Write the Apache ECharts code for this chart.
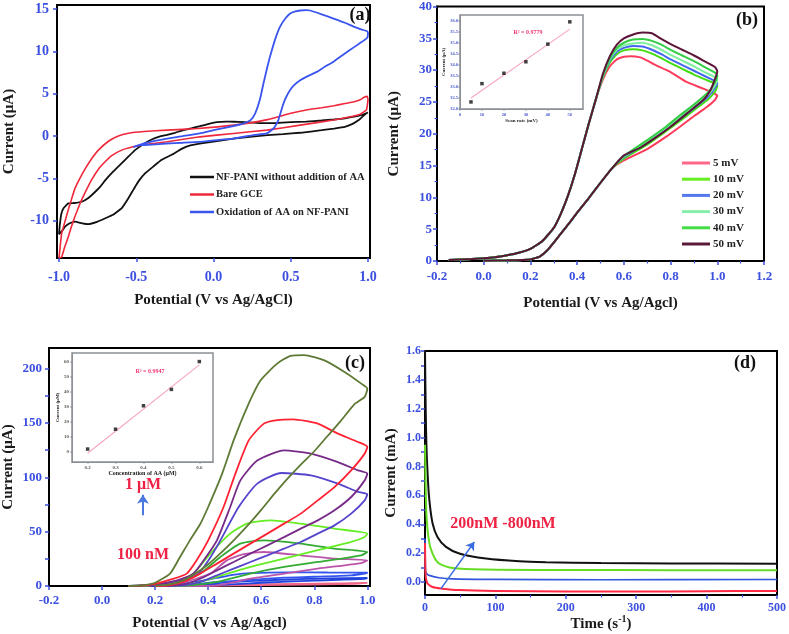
<!DOCTYPE html>
<html><head><meta charset="utf-8">
<script src="https://cdn.jsdelivr.net/npm/echarts@6/dist/echarts.min.js"></script>
<style>html,body{margin:0;padding:0;background:#fff}#c{width:789px;height:634px}</style>
</head><body><div id="c"></div>
<script>
// ---------- Panel (a) ----------
const aTicksX = [-1.0, -0.5, 0.0, 0.5, 1.0];
const aTicksY = [-10, -5, 0, 5, 10, 15];
const aNames = ['NF-PANI without addition of AA', 'Bare GCE', 'Oxidation of AA on NF-PANI'];
const aNFPANI = [[-1.0,-11.6],[-0.995,-10.5],[-0.985,-9.2],[-0.97,-8.5],[-0.94,-7.95],[-0.9,-7.9],[-0.853,-7.75],[-0.81,-7.3],[-0.767,-6.6],[-0.73,-5.9],[-0.70,-5.2],[-0.65,-4.2],[-0.594,-3.2],[-0.55,-2.4],[-0.508,-1.65],[-0.45,-0.9],[-0.40,-0.4],[-0.35,-0.05],[-0.30,0.15],[-0.25,0.4],[-0.196,0.71],[-0.14,0.95],[-0.088,1.18],[-0.03,1.45],[0.02,1.65],[0.08,1.72],[0.13,1.7],[0.2,1.65],[0.3,1.55],[0.4,1.55],[0.5,1.65],[0.6,1.72],[0.7,1.85],[0.78,1.97],[0.85,2.1],[0.91,2.3],[0.96,2.5],[1.0,2.8],
  [0.99,2.7],[0.97,2.4],[0.94,1.9],[0.9,1.45],[0.85,1.1],[0.78,0.9],[0.7,0.7],[0.56,0.4],[0.45,0.25],[0.35,0.12],[0.25,-0.05],[0.13,-0.28],[0.0,-0.65],[-0.09,-0.87],[-0.15,-1.1],[-0.206,-1.5],[-0.27,-2.2],[-0.335,-2.8],[-0.39,-3.6],[-0.443,-4.4],[-0.48,-5.2],[-0.508,-6.0],[-0.55,-7.3],[-0.594,-8.5],[-0.65,-9.3],[-0.70,-9.7],[-0.75,-10.1],[-0.81,-10.4],[-0.85,-10.3],[-0.896,-10.1],[-0.93,-10.3],[-0.961,-10.7],[-0.98,-11.2],[-1.0,-11.6]];
const aBareGCE = [[-1.0,-14.4],[-0.983,-11.5],[-0.96,-10.0],[-0.94,-8.7],[-0.92,-7.5],[-0.897,-6.2],[-0.865,-5.0],[-0.832,-3.9],[-0.79,-2.7],[-0.745,-1.65],[-0.68,-0.6],[-0.62,0.0],[-0.55,0.35],[-0.45,0.55],[-0.30,0.71],[-0.1,0.9],[0.13,1.3],[0.35,1.95],[0.5,2.7],[0.6,3.1],[0.7,3.35],[0.78,3.6],[0.85,3.85],[0.91,4.07],[0.95,4.3],[0.975,4.6],[0.995,4.7],[1.0,4.3],
  [0.99,3.1],[0.95,2.6],[0.885,2.3],[0.777,1.9],[0.561,1.3],[0.345,0.71],[0.129,0.32],[-0.088,-0.08],[-0.3,-0.67],[-0.45,-1.0],[-0.52,-1.26],[-0.594,-1.65],[-0.659,-2.3],[-0.70,-3.0],[-0.745,-3.9],[-0.79,-5.2],[-0.832,-6.7],[-0.865,-8.0],[-0.897,-9.5],[-0.92,-10.7],[-0.94,-11.9],[-0.963,-13.1],[-0.983,-14.3],[-1.0,-14.4]];
const aOxidationAA = [[-0.52,-1.3],[-0.45,-0.85],[-0.38,-0.55],[-0.30,-0.28],[-0.2,0.0],[-0.088,0.32],[0.0,0.7],[0.129,1.2],[0.2,1.55],[0.24,1.9],[0.27,2.7],[0.30,4.3],[0.323,6.2],[0.345,7.9],[0.366,9.4],[0.40,11.5],[0.431,12.95],[0.465,13.9],[0.496,14.5],[0.53,14.75],[0.561,14.85],[0.6,14.9],[0.626,14.85],[0.7,14.4],[0.777,13.9],[0.85,13.4],[0.907,12.95],[0.96,12.6],[0.994,12.4],[1.0,12.2],
  [0.994,11.6],[0.94,10.9],[0.885,10.2],[0.83,9.5],[0.777,8.8],[0.72,8.2],[0.669,7.6],[0.61,7.1],[0.561,6.6],[0.52,6.0],[0.496,5.45],[0.47,4.6],[0.453,3.87],[0.435,2.8],[0.42,1.9],[0.40,1.2],[0.388,0.9],[0.345,0.32],[0.258,0.12],[0.129,-0.28],[0.0,-0.5],[-0.088,-0.67],[-0.2,-0.78],[-0.304,-0.87],[-0.4,-1.0],[-0.477,-1.07],[-0.52,-1.3]];

// ---------- Panel (b) ----------
const bNames = ['5 mV', '10 mV', '20 mV', '30 mV', '40 mV', '50 mV'];
const bRiseCommon = [[-0.15,0.15],[-0.05,0.3],[0.05,0.6],[0.1,0.9],[0.15,1.3],[0.2,1.9],[0.25,3.1],[0.3,5.2],[0.33,7.4],[0.36,10.2],[0.39,13.6],[0.42,17.6],[0.45,21.6],[0.48,25.4]];
const bTail5  = [[0.51,28.5],[0.54,30.6],[0.57,31.7],[0.60,32.1],[0.63,32.2],[0.67,32.0],[0.70,31.5],[0.73,30.9],[0.80,29.7],[0.87,28.1],[0.94,27.1],[0.97,26.6],[1.0,26.0],[0.99,25.3],[0.955,24.2],[0.905,22.9],[0.84,21.1],[0.78,19.5],[0.70,17.6],[0.60,15.8]];
const bTail10 = [[0.51,28.8],[0.54,31.2],[0.57,32.5],[0.60,33.1],[0.64,33.3],[0.68,33.1],[0.72,32.6],[0.76,31.9],[0.80,31.1],[0.85,30.2],[0.90,29.3],[0.95,28.5],[0.99,27.9],[1.0,27.5],[0.99,26.6],[0.96,25.4],[0.90,23.7],[0.84,22.0],[0.78,20.4],[0.70,18.3],[0.60,16.1]];
const bTail20 = [[0.51,29.0],[0.54,31.5],[0.57,32.9],[0.60,33.5],[0.64,33.8],[0.68,33.7],[0.72,33.2],[0.76,32.5],[0.80,31.7],[0.85,30.8],[0.90,29.9],[0.95,29.0],[0.99,28.3],[1.0,27.9],[0.99,27.2],[0.96,25.8],[0.90,24.0],[0.84,22.3],[0.78,20.7],[0.70,18.6],[0.60,16.3]];
const bTail30 = [[0.51,29.1],[0.54,31.7],[0.57,33.2],[0.60,33.9],[0.64,34.2],[0.68,34.3],[0.72,33.9],[0.76,33.2],[0.80,32.4],[0.85,31.5],[0.90,30.6],[0.95,29.6],[0.99,28.9],[1.0,28.5],[0.99,27.6],[0.96,26.1],[0.90,24.3],[0.84,22.6],[0.78,20.9],[0.70,18.8],[0.60,16.4]];
const bTail40 = [[0.51,29.2],[0.54,31.9],[0.57,33.5],[0.60,34.3],[0.64,34.8],[0.68,34.9],[0.72,34.6],[0.76,34.0],[0.80,33.2],[0.85,32.3],[0.90,31.4],[0.95,30.4],[0.99,29.6],[1.0,29.1],[0.99,28.1],[0.96,26.5],[0.90,24.6],[0.84,22.9],[0.78,21.1],[0.70,19.0],[0.60,16.5]];
const bTail50 = [[0.51,29.4],[0.54,32.2],[0.57,34.0],[0.60,35.0],[0.64,35.6],[0.68,35.9],[0.72,35.8],[0.76,34.9],[0.80,34.1],[0.85,33.2],[0.90,32.3],[0.95,31.3],[0.99,30.5],[1.0,29.8],[0.99,28.6],[0.97,26.8],[0.94,25.3],[0.87,23.2],[0.80,21.1],[0.74,19.5],[0.67,17.8],[0.60,16.6]];
const bLowerCommon = [[0.55,14.6],[0.5,12.3],[0.45,9.9],[0.4,7.6],[0.35,5.2],[0.3,2.9],[0.27,1.6],[0.24,0.7],[0.2,0.25],[0.1,0.1],[0.0,0.05]];
const bInsetRate = [5, 10, 20, 30, 40, 50];
const bInsetPeak = [32.32, 33.15, 33.62, 34.14, 34.94, 35.95];
const bInsetFit = [[5, 32.5], [50, 35.62]];
const bInsetTicksX = [0, 10, 20, 30, 40, 50];
const bInsetTicksY = [32.0, 32.5, 33.0, 33.5, 34.0, 34.5, 35.0, 35.5, 36.0];

// ---------- Panel (c) ----------
const cTicksX = [-0.2, 0.0, 0.2, 0.4, 0.6, 0.8, 1.0];
const cTicksY = [0, 50, 100, 150, 200];
const cCurve1 = [[0.2,0],[0.5,1.2],[0.8,2.2],[1.0,2.8],[0.95,2.0],[0.6,0.8],[0.3,0]];
const cCurve2 = [[0.2,0],[0.4,2],[0.55,4.5],[0.7,6],[0.85,7],[1.0,7.5],[0.99,6.5],[0.8,5],[0.6,3],[0.45,1],[0.3,0]];
const cCurve3 = [[0.15,0],[0.3,2],[0.38,5],[0.433,7.5],[0.5,10.5],[0.559,11.8],[0.7,12.5],[0.85,12.4],[1.0,12.3],[0.99,11.5],[0.939,9.8],[0.8,8.5],[0.686,7.7],[0.55,5.5],[0.433,3.7],[0.306,0.6],[0.2,0]];
const cCurve4 = [[0.15,0],[0.3,3],[0.408,11.4],[0.47,23.6],[0.53,29],[0.61,31.3],[0.749,28.2],[0.876,25.2],[1.0,23.6],[0.977,21.1],[0.813,16],[0.686,11.4],[0.559,6.7],[0.433,0.6],[0.3,0]];
const cCurve5 = [[0.1,0],[0.25,2],[0.31,5],[0.37,11.4],[0.446,26.7],[0.521,39],[0.61,42],[0.749,39],[0.876,34.4],[1.0,31.3],[0.977,28.2],[0.813,22.1],[0.686,17.5],[0.559,11.4],[0.433,3.7],[0.33,0.5],[0.25,0]];
const cCurve6 = [[0.1,0],[0.2,1],[0.28,4],[0.344,11.4],[0.408,29.8],[0.483,48.2],[0.547,57.4],[0.636,60.4],[0.749,57.4],[0.876,52.8],[1.0,48.2],[0.99,45.1],[0.939,40.5],[0.813,32.9],[0.686,25.2],[0.559,17.5],[0.433,8.3],[0.37,3.7],[0.306,0.6],[0.25,0]];
const cCurve7 = [[0.1,0],[0.2,1.2],[0.29,5],[0.363,11.4],[0.41,27],[0.446,42],[0.515,72.7],[0.585,94.2],[0.676,104],[0.787,101.8],[0.889,94.2],[0.965,86.6],[1.0,84.4],[0.99,78.8],[0.939,66.6],[0.876,55.8],[0.813,48.2],[0.749,40.5],[0.686,34.4],[0.623,28.2],[0.559,22.1],[0.496,16],[0.433,9.8],[0.37,3.7],[0.306,0.6],[0.25,0]];
const cCurve8 = [[0.1,0],[0.2,1.5],[0.28,5],[0.344,11.4],[0.39,26],[0.433,42],[0.483,72.7],[0.521,97],[0.585,115.4],[0.686,124.8],[0.787,121.8],[0.889,114],[0.965,106.4],[1.0,103.4],[0.99,97.2],[0.939,81.9],[0.876,69.6],[0.813,60.4],[0.749,52.8],[0.686,45],[0.623,37.4],[0.559,29.8],[0.496,22.1],[0.433,14.4],[0.37,6.7],[0.306,1.5],[0.243,0]];
const cCurve9 = [[0.1,0],[0.15,0.4],[0.2,2],[0.26,6],[0.319,11.4],[0.36,25],[0.40,42],[0.458,72.7],[0.502,103],[0.553,134],[0.61,149.4],[0.66,152.6],[0.72,153.3],[0.813,149.4],[0.889,140.2],[0.965,132.5],[1.0,128],[0.99,121.8],[0.939,106.4],[0.876,91],[0.813,78.8],[0.749,66.6],[0.686,57.4],[0.623,48.2],[0.559,39],[0.496,29.8],[0.433,20.6],[0.37,11.4],[0.306,3.7],[0.243,0.3],[0.2,0]];
const cCurve10 = [[0.1,0],[0.15,0.6],[0.2,3],[0.256,11.4],[0.29,25],[0.331,42],[0.37,57],[0.40,72.7],[0.452,103],[0.496,134],[0.547,164.7],[0.597,189],[0.66,204.6],[0.71,211.8],[0.762,212.5],[0.838,207.6],[0.914,196.9],[0.977,186.2],[1.0,181.6],[0.99,174],[0.95,167],[0.9,152],[0.85,138],[0.8,124],[0.75,112],[0.7,99],[0.65,85],[0.6,70],[0.55,56],[0.5,43],[0.45,31],[0.4,20],[0.35,11],[0.3,4.5],[0.25,1.2],[0.2,0.2]];
const cInsetConc = [0.2, 0.3, 0.4, 0.5, 0.6];
const cInsetCurrent = [1.8, 15, 30.6, 41.5, 60];
const cInsetFit = [[0.2, -1.0], [0.6, 57.8]];
const cInsetTicksX = [0.2, 0.3, 0.4, 0.5, 0.6];
const cInsetTicksY = [0, 10, 20, 30, 40, 50, 60];
const cArrow = [[0.154, 65], [0.154, 84]];

// ---------- Panel (d) ----------
const dTicksY = [0.0, 0.2, 0.4, 0.6, 0.8, 1.0, 1.2, 1.4, 1.6];
const dMinorY = [0.1, 0.3, 0.5, 0.7, 0.9, 1.1, 1.3, 1.5];
const dBlack = [[0,1.6],[1,1.2],[2,0.95],[3.7,0.75],[6.1,0.57],[10.8,0.405],[17.9,0.31],[29.8,0.243],[48.7,0.197],[86.6,0.162],[134,0.143],[172,0.137],[250,0.132],[350,0.129],[500,0.126]];
const dGreen = [[0,0.95],[0.5,0.8],[1,0.65],[2,0.47],[3.5,0.37],[4.9,0.31],[7,0.25],[10.8,0.197],[15,0.155],[20.3,0.128],[39,0.097],[86.6,0.086],[200,0.083],[350,0.082],[500,0.081]];
const dBlue = [[0,0.3],[0.5,0.12],[1,0.07],[3,0.055],[6,0.046],[20,0.03],[39,0.022],[100,0.018],[250,0.016],[500,0.017]];
const dRed = [[0,0.27],[0.5,0.1],[1,0.04],[2,0.01],[3.7,-0.011],[10.8,-0.035],[25,-0.046],[48.7,-0.056],[100,-0.062],[200,-0.066],[300,-0.066],[400,-0.064],[500,-0.062]];
const dArrow = [[22.7, -0.046], [70, 0.277]];

// ---------- build ----------
const FONT = '"Liberation Serif", "Times New Roman", serif';
const BLUE = '#3b4fe0';

function vAxis(gi, o) {
  return {
    type: 'value', gridIndex: gi, min: o.min, max: o.max, interval: o.interval,
    name: o.name, nameLocation: 'middle', nameGap: o.gap, nameRotate: o.rot,
    nameTextStyle: { fontFamily: FONT, fontWeight: 'bold', fontSize: o.nameSize || 15, color: '#1a1a1a', rich: o.rich },
    axisLine: { show: true, onZero: false, lineStyle: { color: o.lineColor || '#000', width: o.lw || 2 } },
    axisTick: { show: o.tick !== false, inside: false, length: o.tickLen || 4, lineStyle: { color: o.tickColor || BLUE, width: 1.5 }, customValues: o.ticks },
    minorTick: { show: !!o.minor, splitNumber: 2, length: 2.5, lineStyle: { color: o.tickColor || BLUE, width: 1.2 } },
    axisLabel: { fontFamily: FONT, fontWeight: 'bold', fontSize: o.size || 13, color: o.labelColor || BLUE, margin: o.margin,
      customValues: o.labels, formatter: o.fmt, showMinLabel: true, showMaxLabel: true },
    splitLine: { show: false }
  };
}
const f1 = v => v.toFixed(1);
const f0 = v => String(Math.round(v));

function line(name, data, color, xi, width, smooth) {
  return { type: 'line', name, data, xAxisIndex: xi, yAxisIndex: xi, showSymbol: false, symbol: 'none',
    smooth: smooth == null ? 0.15 : smooth, lineStyle: { color, width: width || 1.8 }, itemStyle: { color },
    emphasis: { disabled: true }, z: 3 };
}

const grids = [
  { left: 57, top: 5, width: 313, height: 253 },
  { left: 437, top: 4, width: 327, height: 257 },
  { left: 49, top: 348, width: 321, height: 238 },
  { left: 425, top: 351, width: 352, height: 244 },
  { left: 460, top: 15, width: 123, height: 94 },
  { left: 72, top: 353, width: 141, height: 109 }
].map((g, i) => Object.assign({ show: true, borderColor: i < 4 ? '#000' : '#8a9096', borderWidth: i < 4 ? 2 : 1.5,
  backgroundColor: i < 4 ? 'transparent' : '#fff', containLabel: false }, g));

const xAxes = [
  vAxis(0, { min: -1.013, max: 1.013, labels: aTicksX, ticks: aTicksX, fmt: f1, name: 'Potential (V vs Ag/AgCl)', gap: 35, size: 14, margin: 12 }),
  vAxis(1, { min: -0.2, max: 1.2, interval: 0.2, fmt: f1, name: 'Potential (V vs Ag/Agcl)', gap: 35, size: 13, margin: 9, minor: true }),
  vAxis(2, { min: -0.2, max: 1.01, labels: cTicksX, ticks: cTicksX, fmt: f1, name: 'Potential (V vs Ag/Agcl)', gap: 30, size: 13, margin: 8 }),
  vAxis(3, { min: 0, max: 500, interval: 100, fmt: f0, name: '{n|Time (s}{s|-1}{n|)}', gap: 14, size: 12, margin: 7, minor: true,
    rich: { n: { fontFamily: FONT, fontWeight: 'bold', fontSize: 15, color: '#1a1a1a' }, s: { fontFamily: FONT, fontWeight: 'bold', fontSize: 10, color: '#1a1a1a', verticalAlign: 'top', padding: [0, 0, 8, 0] } } }),
  vAxis(4, { min: 0, max: 56, labels: bInsetTicksX, ticks: bInsetTicksX, fmt: f0, name: 'Scan rate (mV)', gap: 8, nameSize: 5, size: 4.5, margin: 3, lineColor: '#8a9096', lw: 1, tickLen: 1.5, tickColor: '#8a9096', labelColor: '#4455cc' }),
  vAxis(5, { min: 0.144, max: 0.649, labels: cInsetTicksX, ticks: cInsetTicksX, fmt: f1, name: 'Concentration of AA (μM)', gap: 7, nameSize: 6, size: 5, margin: 3, lineColor: '#8a9096', lw: 1, tickLen: 1.5, tickColor: '#8a9096', labelColor: '#555' })
];
const yAxes = [
  vAxis(0, { min: -14.4, max: 15.5, labels: aTicksY, ticks: aTicksY, fmt: f0, name: 'Current (μA)', gap: 40, rot: 90, size: 14, margin: 8 }),
  vAxis(1, { min: 0, max: 40, interval: 5, fmt: f0, name: 'Current (μA)', gap: 35, rot: 90, size: 13, margin: 5, minor: true }),
  vAxis(2, { min: 0, max: 219, labels: cTicksY, ticks: [0,25,50,75,100,125,150,175,200], fmt: f0, name: 'Current (μA)', gap: 33, rot: 90, size: 13, margin: 7 }),
  vAxis(3, { min: -0.09, max: 1.6, labels: dTicksY, ticks: dTicksY.concat(dMinorY), fmt: f1, name: 'Current (mA)', gap: 26, rot: 90, size: 12, margin: 4 }),
  vAxis(4, { min: 32.0, max: 36.26, labels: bInsetTicksY, ticks: bInsetTicksY, fmt: f1, name: 'Current (μA)', gap: 12, rot: 90, nameSize: 5, size: 4.5, margin: 2, lineColor: '#8a9096', lw: 1, tickLen: 1.5, tickColor: '#8a9096', labelColor: '#4455cc' }),
  vAxis(5, { min: -6.8, max: 65.7, labels: cInsetTicksY, ticks: cInsetTicksY, fmt: f0, name: 'Current (μM)', gap: 10, rot: 90, nameSize: 5, size: 5, margin: 3, lineColor: '#8a9096', lw: 1, tickLen: 1.5, tickColor: '#8a9096', labelColor: '#555' })
];

const bColors = ['#ff3b5c', '#44dd11', '#4466ee', '#7df0a0', '#33cc44', '#5c1538'];
const bLegendColors = ['#ff6688', '#66ee22', '#5577ee', '#88eeaa', '#44dd44', '#5a1a3a'];
const bTails = [bTail5, bTail10, bTail20, bTail30, bTail40, bTail50];

const series = [
  line(aNames[0], aNFPANI, '#111111', 0, 1.8, 0.1),
  line(aNames[1], aBareGCE, '#f0283c', 0, 1.6, 0.1),
  line(aNames[2], aOxidationAA, '#3a55ee', 0, 1.8, 0.15)
];
bTails.forEach((t, i) => {
  const s = line(bNames[i], bRiseCommon.concat(t, bLowerCommon), bColors[i], 1, 2, 0.15);
  s.itemStyle = { color: bLegendColors[i] };
  series.push(s);
});
series.push({ type: 'line', name: 'b-fit', data: bInsetFit, xAxisIndex: 4, yAxisIndex: 4, showSymbol: false, symbol: 'none',
  lineStyle: { color: '#f7a6c4', width: 1.2 }, emphasis: { disabled: true }, z: 4 });
series.push({ type: 'scatter', name: 'b-pts', data: bInsetRate.map((r, i) => [r, bInsetPeak[i]]), xAxisIndex: 4, yAxisIndex: 4,
  symbol: 'rect', symbolSize: 3.5, itemStyle: { color: '#111' }, emphasis: { disabled: true }, z: 5 });

const cData = [cCurve1, cCurve2, cCurve3, cCurve4, cCurve5, cCurve6, cCurve7, cCurve8, cCurve9, cCurve10];
const cColors = ['#ee6688', '#2244dd', '#3355ee', '#bb55aa', '#33aa33', '#66ee22', '#5544cc', '#772a88', '#ff2233', '#5f7a35'];
cData.forEach((d, i) => {
  const s = line('c' + (i + 1), d, cColors[i], 2, 1.8, 0.2);
  if (i === 0) {
    s.markLine = { silent: true, symbol: ['none', 'arrow'], symbolSize: 9, label: { show: false },
      lineStyle: { color: '#4a78e0', width: 2, type: 'solid' },
      data: [[{ coord: cArrow[0] }, { coord: cArrow[1] }]] };
  }
  series.push(s);
});
series.push({ type: 'line', name: 'c-fit', data: cInsetFit, xAxisIndex: 5, yAxisIndex: 5, showSymbol: false, symbol: 'none',
  lineStyle: { color: '#f7a6c4', width: 1.2 }, emphasis: { disabled: true }, z: 4 });
series.push({ type: 'scatter', name: 'c-pts', data: cInsetConc.map((c, i) => [c, cInsetCurrent[i]]), xAxisIndex: 5, yAxisIndex: 5,
  symbol: 'rect', symbolSize: 3.5, itemStyle: { color: '#111' }, emphasis: { disabled: true }, z: 5 });

series.push(line('d-black', dBlack, '#111111', 3, 2, 0.3));
series.push(line('d-green', dGreen, '#66dd22', 3, 2, 0.3));
series.push(line('d-blue', dBlue, '#3355dd', 3, 1.6, 0.3));
const dr = line('d-red', dRed, '#ff2a44', 3, 2, 0.3);
dr.markLine = { silent: true, symbol: ['none', 'arrow'], symbolSize: 8, label: { show: false },
  lineStyle: { color: '#3a6ee0', width: 1.5, type: 'solid' },
  data: [[{ coord: dArrow[0] }, { coord: dArrow[1] }]] };
series.push(dr);

function txt(x, y, text, size, color, align) {
  return { type: 'text', x, y, z: 100, style: { text, fill: color || '#111', font: 'bold ' + size + 'px ' + FONT,
    align: align || 'center', verticalAlign: 'middle', textAlign: align || 'center', textVerticalAlign: 'middle' } };
}

const option = {
  animation: false,
  backgroundColor: '#fff',
  grid: grids, xAxis: xAxes, yAxis: yAxes, series,
  legend: [
    { data: aNames, left: 185, top: 166, orient: 'vertical', icon: 'rect', itemWidth: 24, itemHeight: 2.5, itemGap: 5.5,
      selectedMode: false, textStyle: { fontFamily: FONT, fontWeight: 'bold', fontSize: 10.5, color: '#222', lineHeight: 12, padding: [0, 0, 0, -3] } },
    { data: bNames, left: 677, top: 152, orient: 'vertical', icon: 'rect', itemWidth: 28, itemHeight: 3, itemGap: 4.2,
      selectedMode: false, textStyle: { fontFamily: FONT, fontWeight: 'bold', fontSize: 11, color: '#222', lineHeight: 12, padding: [0, 0, 0, -2] } }
  ],
  graphic: [
    txt(360, 15, '(a)', 18), txt(747, 20, '(b)', 18), txt(355, 363, '(c)', 18), txt(745, 363, '(d)', 18),
    txt(528, 32, 'R² = 0.9779', 6, '#ee3377'),
    txt(150, 371, 'R² = 0.9947', 6, '#ee3377'),
    txt(143, 485, '1 μM', 16, '#ee2244'),
    txt(143, 555, '100 nM', 16, '#ee2244'),
    txt(503, 524, '200nM -800nM', 16, '#ee2244')
  ]
};
const chart = echarts.init(document.getElementById('c'), null, { renderer: 'canvas' });
chart.setOption(option);
</script></body></html>
